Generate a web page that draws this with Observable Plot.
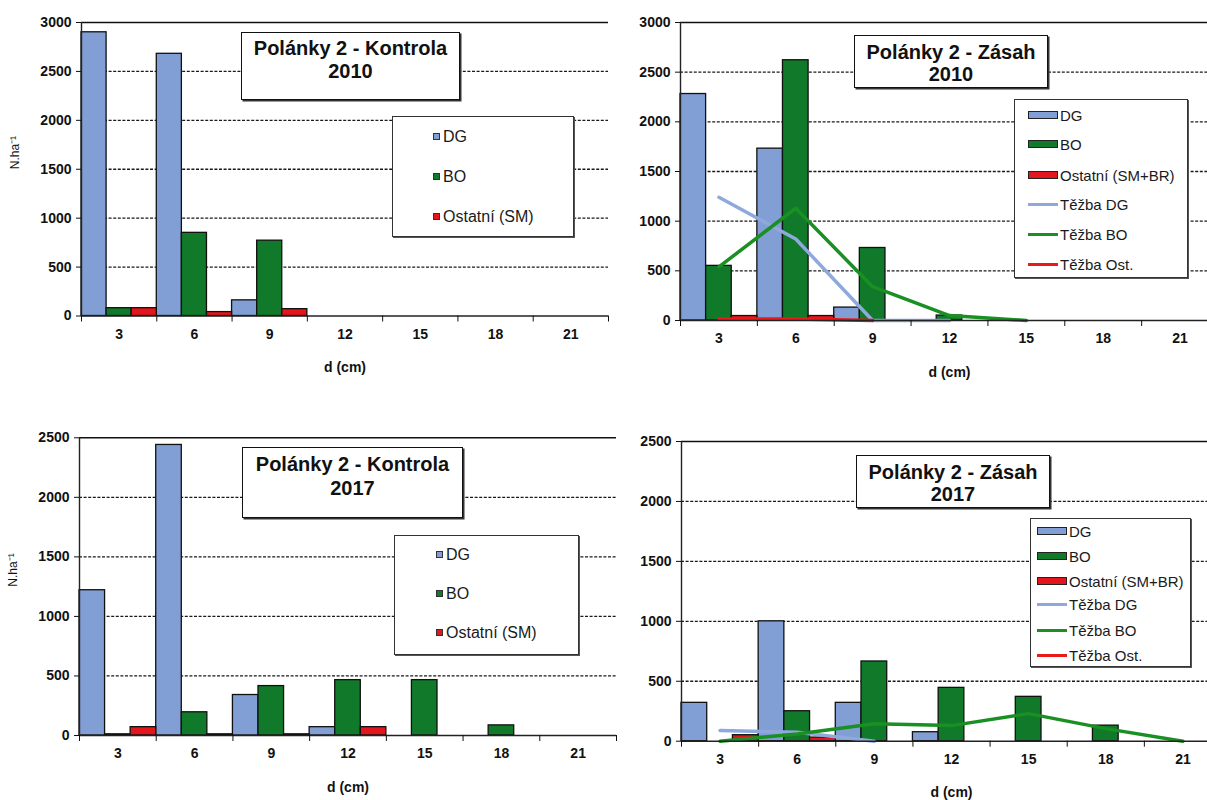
<!DOCTYPE html>
<html>
<head>
<meta charset="utf-8">
<script src="https://cdn.jsdelivr.net/npm/d3@7"></script>
<script src="https://cdn.jsdelivr.net/npm/@observablehq/plot@0.6"></script>
<style>
  body { margin: 0; background: #fff; font-family: Arial, "Liberation Sans", sans-serif; }
  #page { position: relative; width: 1207px; height: 800px; overflow: hidden; background: #fff; }
  #page svg { position: absolute; }
  .title {
    position: absolute; box-sizing: border-box; background: #fff;
    border: 1.5px solid #111; box-shadow: 1.5px 1.5px 0 #333;
    font-weight: bold; font-size: 20px; text-align: center; color: #111;
  }
  .legend {
    position: absolute; box-sizing: border-box; background: #fff;
    border: 1.5px solid #333; box-shadow: 1px 1px 0 #555; color: #1a1a1a;
  }
  .item { position: absolute; white-space: nowrap; display: flex; align-items: center; }
  .sq { width: 7px; height: 7px; border: 1px solid #333; margin-right: 3px; box-sizing: border-box; }
  .barsw { width: 30px; height: 8px; border: 1.3px solid #222; box-sizing: border-box; margin-right: 2px; }
  .linesw { width: 30px; height: 3px; margin-right: 2px; }
</style>
</head>
<body>
<div id="page"></div>
<script>
// Diameter classes (cm) and axis ticks
const diameters = [3, 6, 9, 12, 15, 18, 21];
const yTicks2010 = [0, 500, 1000, 1500, 2000, 2500, 3000];
const yTicks2017 = [0, 500, 1000, 1500, 2000, 2500];

// Polánky 2 - Kontrola 2010 (N/ha)
const kontrola2010DG = [2900, 2680, 160, 0, 0, 0, 0];
const kontrola2010BO = [80, 850, 770, 0, 0, 0, 0];
const kontrola2010SM = [80, 40, 70, 0, 0, 0, 0];

// Polánky 2 - Zásah 2010 (N/ha)
const zasah2010DG = [2280, 1730, 130, 0, 0, 0, 0];
const zasah2010BO = [550, 2620, 730, 50, 0, 0, 0];
const zasah2010Ost = [45, 45, 0, 0, 0, 0, 0];
const zasah2010TezbaDG = [1240, 820, 0, 0, null, null, null];
const zasah2010TezbaBO = [540, 1130, 340, 50, 0, null, null];
const zasah2010TezbaOst = [15, 15, 0, null, null, null, null];

// Polánky 2 - Kontrola 2017 (N/ha)
const kontrola2017DG = [1220, 2440, 340, 70, 0, 0, 0];
const kontrola2017BO = [10, 195, 415, 465, 465, 85, 0];
const kontrola2017SM = [70, 10, 10, 70, 0, 0, 0];

// Polánky 2 - Zásah 2017 (N/ha)
const zasah2017DG = [320, 1000, 320, 75, 0, 0, 0];
const zasah2017BO = [0, 250, 665, 445, 370, 130, 0];
const zasah2017Ost = [50, 30, 0, 0, 0, 0, 0];
const zasah2017TezbaDG = [90, 75, 0, null, null, null, null];
const zasah2017TezbaBO = [0, 60, 145, 130, 230, 105, 0];
const zasah2017TezbaOst = [null, null, null, null, null, null, null];

const colors = {
  DG: "#819fd4", BO: "#10792a", OST: "#e2161c",
  tDG: "#8fa9dc", tBO: "#1a8f22", tOST: "#ea1a1a"
};

const page = document.getElementById("page");

function drawPanel(cfg) {
  const classWidth = 3;
  const breaks = diameters.map(d => d - classWidth / 2).concat([diameters[diameters.length - 1] + classWidth / 2]);
  const barSeries = [[cfg.dg, colors.DG], [cfg.bo, colors.BO], [cfg.ost, colors.OST]];
  const barMarks = barSeries.map(([vals, fill], k) => {
    const rows = vals.map((v, i) => ({d: diameters[i], v})).filter(r => r.v > 0);
    return Plot.rect(rows, {
      x1: r => r.d - classWidth / 2 + k,
      x2: r => r.d - classWidth / 2 + k + 1,
      y1: 0, y2: "v",
      fill, stroke: "#111", strokeWidth: 1.3
    });
  });
  const lineMarks = (cfg.cuts || []).map(([vals, stroke]) => {
    const rows = vals.map((v, i) => ({d: diameters[i], v})).filter(r => r.v != null);
    return Plot.line(rows, {x: "d", y: "v", stroke, strokeWidth: 3.5});
  });
  const yMax = cfg.yTicks[cfg.yTicks.length - 1];
  const marks = [
    Plot.gridY(cfg.yTicks.slice(1, -1), {stroke: "#1a1a1a", strokeOpacity: 1, strokeWidth: 1.3, strokeDasharray: "3,1.6"}),
    Plot.ruleY([yMax], {stroke: "#111", strokeWidth: 1.6}),
    ...barMarks,
    ...lineMarks,
    Plot.ruleY([0], {stroke: "#222", strokeWidth: 1.6}),
    Plot.ruleX([breaks[0]], {stroke: "#222", strokeWidth: 1.4}),
    Plot.axisY({ticks: cfg.yTicks, tickFormat: d => String(d), tickSize: 5, tickPadding: 5, label: null, fontWeight: "bold", fontSize: 14}),
    Plot.axisX({ticks: breaks, tickSize: 6, tickFormat: () => "", label: null}),
    Plot.axisX({ticks: diameters, tickFormat: d => String(d), tickSize: 0, tickPadding: 13, label: null, fontWeight: "bold", fontSize: 14}),
    Plot.text(["d (cm)"], {text: d => d, frameAnchor: "bottom", dy: 56, fontSize: 14, fontWeight: "bold"})
  ];
  if (cfg.yLabel) {
    marks.push(Plot.text([cfg.yLabel], {text: d => d, frameAnchor: "left", rotate: -90, dx: -66, fontSize: 12}));
  }
  const svg = Plot.plot({
    width: cfg.width, height: cfg.height,
    marginLeft: cfg.ml, marginRight: cfg.mr, marginTop: cfg.mt, marginBottom: cfg.mb,
    x: {type: "linear", domain: [breaks[0], breaks[breaks.length - 1]]},
    y: {domain: [0, yMax]},
    style: {fontFamily: "Arial, 'Liberation Sans', sans-serif", fontSize: "14px", color: "#111", background: "transparent", overflow: "visible"},
    marks
  });
  svg.style.left = cfg.left + "px";
  svg.style.top = cfg.top + "px";
  page.appendChild(svg);
}

function addTitle(lines, box, padTop, lineHeight) {
  const el = document.createElement("div");
  el.className = "title";
  Object.assign(el.style, {left: box[0] + "px", top: box[1] + "px", width: box[2] + "px", height: box[3] + "px", paddingTop: padTop + "px", lineHeight: lineHeight + "px"});
  el.innerHTML = lines.map(t => `<div>${t}</div>`).join("");
  page.appendChild(el);
}

function addLegend(items, box, fontSize, swX) {
  const el = document.createElement("div");
  el.className = "legend";
  Object.assign(el.style, {left: box[0] + "px", top: box[1] + "px", width: box[2] + "px", height: box[3] + "px", fontSize: fontSize + "px"});
  items.forEach(it => {
    const row = document.createElement("div");
    row.className = "item";
    row.style.left = swX + "px";
    row.style.top = (it.y - fontSize * 0.6) + "px";
    row.style.height = (fontSize * 1.2) + "px";
    const sw = document.createElement("div");
    sw.className = it.kind;
    sw.style.background = it.color;
    row.appendChild(sw);
    const tx = document.createElement("span");
    tx.textContent = it.label;
    row.appendChild(tx);
    el.appendChild(row);
  });
  page.appendChild(el);
}

// Top left: Kontrola 2010
drawPanel({
  dg: kontrola2010DG, bo: kontrola2010BO, ost: kontrola2010SM,
  yTicks: yTicks2010, yLabel: "N.ha⁻¹",
  left: 0, top: 0, width: 615, height: 390, ml: 81, mr: 7, mt: 22, mb: 74.5
});
// Top right: Zásah 2010
drawPanel({
  dg: zasah2010DG, bo: zasah2010BO, ost: zasah2010Ost,
  cuts: [[zasah2010TezbaDG, colors.tDG], [zasah2010TezbaBO, colors.tBO], [zasah2010TezbaOst, colors.tOST]],
  yTicks: yTicks2010,
  left: 600, top: 0, width: 620, height: 390, ml: 80, mr: 2, mt: 22, mb: 70
});
// Bottom left: Kontrola 2017
drawPanel({
  dg: kontrola2017DG, bo: kontrola2017BO, ost: kontrola2017SM,
  yTicks: yTicks2017, yLabel: "N.ha⁻¹",
  left: 0, top: 400, width: 620, height: 400, ml: 79, mr: 4, mt: 37.3, mb: 65
});
// Bottom right: Zásah 2017
drawPanel({
  dg: zasah2017DG, bo: zasah2017BO, ost: zasah2017Ost,
  cuts: [[zasah2017TezbaDG, colors.tDG], [zasah2017TezbaBO, colors.tBO], [zasah2017TezbaOst, colors.tOST]],
  yTicks: yTicks2017,
  left: 600, top: 400, width: 625, height: 400, ml: 81, mr: 4, mt: 41, mb: 59.3
});

addTitle(["Polánky 2 - Kontrola", "2010"], [241, 32, 219, 68], 3.5, 23);
addTitle(["Polánky 2 - Zásah", "2010"], [854, 35, 194, 53], 5, 22);
addTitle(["Polánky 2 - Kontrola", "2017"], [242, 447, 221, 71], 4, 24);
addTitle(["Polánky 2 - Zásah", "2017"], [856, 455, 194, 53], 5, 22);

const kontrolaItems = (ostLabel, ys) => [
  {label: "DG", color: colors.DG, kind: "sq", y: ys[0]},
  {label: "BO", color: colors.BO, kind: "sq", y: ys[1]},
  {label: ostLabel, color: colors.OST, kind: "sq", y: ys[2]}
];
const zasahItems = ys => [
  {label: "DG", color: colors.DG, kind: "barsw", y: ys[0]},
  {label: "BO", color: colors.BO, kind: "barsw", y: ys[1]},
  {label: "Ostatní (SM+BR)", color: colors.OST, kind: "barsw", y: ys[2]},
  {label: "Těžba DG", color: colors.tDG, kind: "linesw", y: ys[3]},
  {label: "Těžba BO", color: colors.tBO, kind: "linesw", y: ys[4]},
  {label: "Těžba Ost.", color: colors.tOST, kind: "linesw", y: ys[5]}
];

addLegend(kontrolaItems("Ostatní (SM)", [20, 60, 100]), [392, 116, 182, 121], 16, 40);
addLegend(kontrolaItems("Ostatní (SM)", [19, 58, 97]), [394, 535, 185, 120], 16, 41);
addLegend(zasahItems([15, 44, 75, 104, 134, 164]), [1014, 99, 174, 179], 15, 13);
addLegend(zasahItems([12, 37, 62, 85, 111, 136]), [1030, 518, 161, 149], 15, 6);
</script>
</body>
</html>
